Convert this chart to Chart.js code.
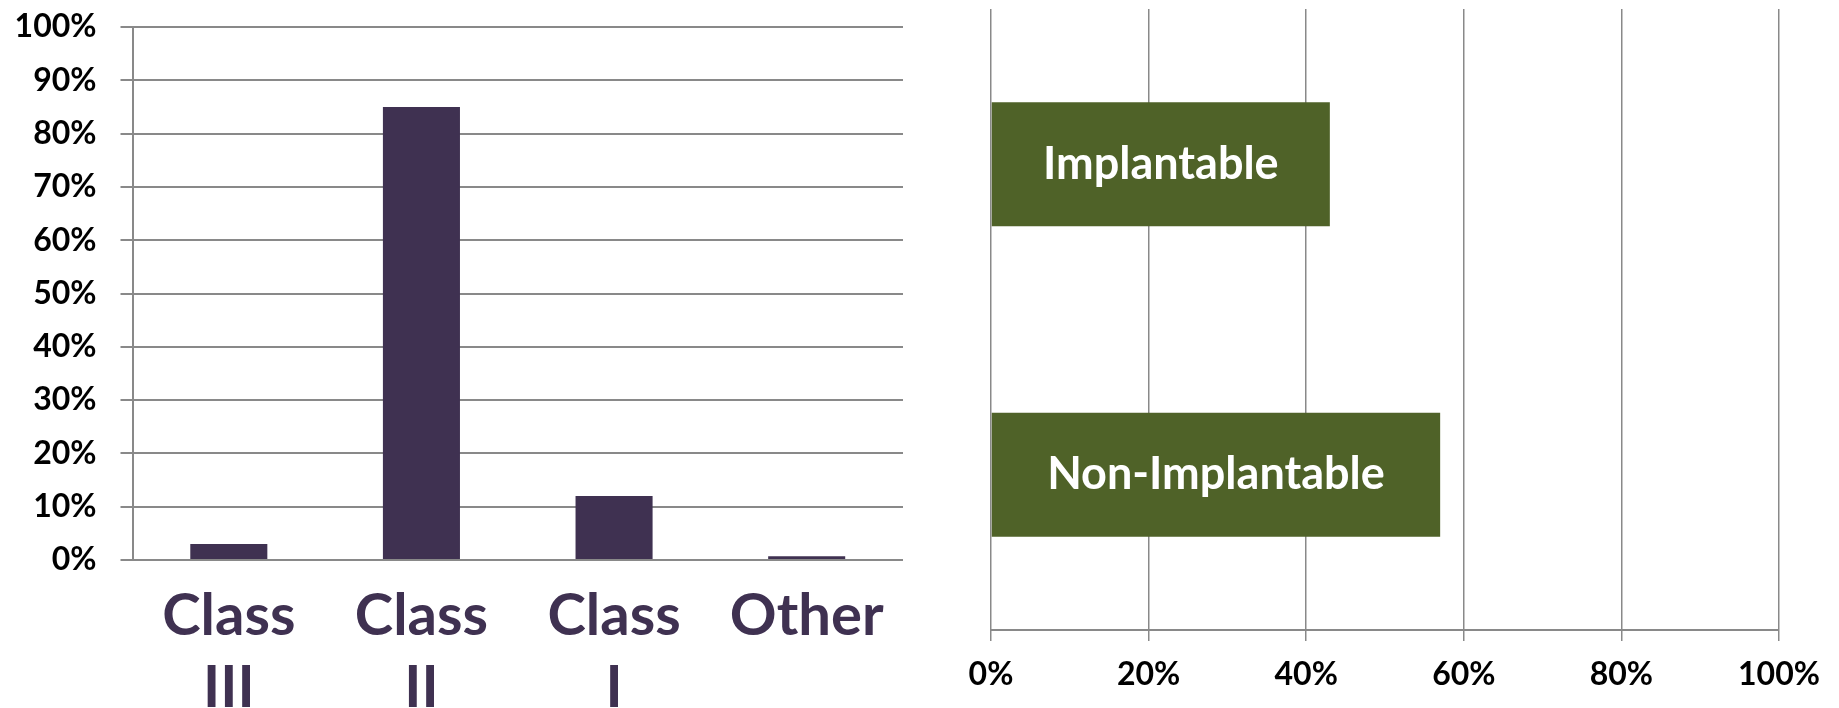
<!DOCTYPE html>
<html>
<head>
<meta charset="utf-8">
<script src="https://cdn.jsdelivr.net/npm/chart.js@4.4.1/dist/chart.umd.min.js"></script>
<style>
  html, body { margin: 0; padding: 0; background: #fff; }
  #wrap { position: relative; width: 1839px; height: 708px; overflow: hidden; }
  canvas { position: absolute; top: 0; }
</style>
</head>
<body>
<div id="wrap">
  <canvas id="classChart" width="905" height="708" style="left:0"></canvas>
  <canvas id="implantChart" width="934" height="708" style="left:905px"></canvas>
</div>
<script>
// device class shares (%)
const classLabels = [['Class', 'III'], ['Class', 'II'], ['Class', 'I'], 'Other'];
const classShares = [3, 85, 12, 0.7];

// implantable vs non-implantable (%)
const implantLabels = ['Implantable', 'Non-Implantable'];
const implantShares = [43, 57];

const FONT = "Lato, 'Open Sans', sans-serif";
const GRID = '#898989';

// write the category name inside each horizontal bar
const barLabels = {
  id: 'barLabels',
  afterDatasetsDraw(chart) {
    const ctx = chart.ctx;
    const meta = chart.getDatasetMeta(0);
    ctx.save();
    ctx.fillStyle = '#ffffff';
    ctx.font = 'bold 45px ' + FONT;
    ctx.textAlign = 'center';
    ctx.textBaseline = 'middle';
    meta.data.forEach((bar, i) => {
      const p = bar.getProps(['x', 'y', 'base'], true);
      ctx.fillText(chart.data.labels[i], (p.x + p.base) / 2, p.y);
    });
    ctx.restore();
  }
};

new Chart(document.getElementById('classChart'), {
  type: 'bar',
  data: {
    labels: classLabels,
    datasets: [{
      data: classShares,
      backgroundColor: '#3f3151',
      barPercentage: 0.4,
      categoryPercentage: 1
    }]
  },
  options: {
    responsive: false,
    animation: false,
    layout: { padding: { top: 27, right: 2 } },
    plugins: { legend: { display: false }, tooltip: { enabled: false } },
    scales: {
      x: {
        grid: { display: false },
        border: { display: false },
        ticks: {
          color: '#3f3151',
          font: { family: FONT, size: 58, weight: 'bold', lineHeight: 1.24 },
          padding: 12,
          maxRotation: 0,
          autoSkip: false
        },
        afterFit(scale) {
          scale.height = 148;
          scale.paddingLeft = 0;
          scale.paddingRight = 0;
        }
      },
      y: {
        min: 0,
        max: 100,
        grid: { color: GRID, lineWidth: 2, tickLength: 12 },
        border: { display: true, color: GRID, width: 2 },
        ticks: {
          stepSize: 10,
          color: '#000',
          padding: 24,
          font: { family: FONT, size: 32, weight: 'bold' },
          callback: v => v + '%'
        },
        afterFit(scale) {
          scale.width = 132.5;
          scale.paddingTop = 0;
          scale.paddingBottom = 0;
        }
      }
    }
  }
});

new Chart(document.getElementById('implantChart'), {
  type: 'bar',
  data: {
    labels: implantLabels,
    datasets: [{
      data: implantShares,
      backgroundColor: '#4f6228',
      barPercentage: 0.4,
      categoryPercentage: 1
    }]
  },
  options: {
    indexAxis: 'y',
    responsive: false,
    animation: false,
    layout: { padding: { top: 9, left: 86, right: 60 } },
    plugins: { legend: { display: false }, tooltip: { enabled: false } },
    scales: {
      x: {
        min: 0,
        max: 100,
        grid: { color: GRID, lineWidth: 1.5, tickLength: 11 },
        border: { display: true, color: GRID, width: 2 },
        ticks: {
          stepSize: 20,
          color: '#000',
          padding: 14,
          font: { family: FONT, size: 32, weight: 'bold' },
          callback: v => v + '%'
        },
        afterFit(scale) {
          scale.height = 78;
          scale.paddingLeft = 0;
          scale.paddingRight = 0;
        }
      },
      y: {
        display: false
      }
    }
  },
  plugins: [barLabels]
});
</script>
</body>
</html>
